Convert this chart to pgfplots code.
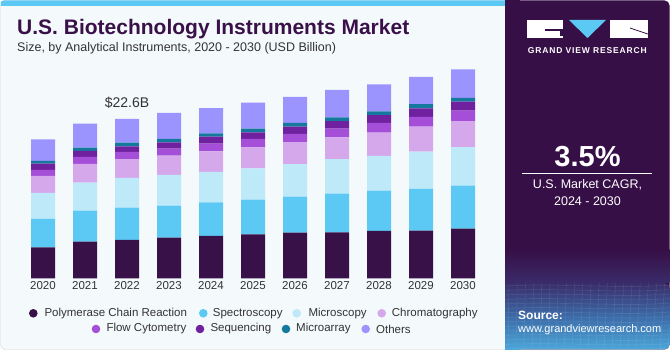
\documentclass[border=0pt]{standalone}
\usepackage{pgfplots}
\pgfplotsset{compat=1.18}
\usepackage{fontspec}
\setmainfont{Liberation Sans}
\definecolor{c1}{HTML}{371148}
\definecolor{c2}{HTML}{5CC9F5}
\definecolor{c3}{HTML}{BEE9F9}
\definecolor{c4}{HTML}{D5A8EC}
\definecolor{c5}{HTML}{A54FD9}
\definecolor{c6}{HTML}{7021A0}
\definecolor{c7}{HTML}{15799E}
\definecolor{c8}{HTML}{9B94FF}
\definecolor{panel}{HTML}{370F47}
\definecolor{titlec}{HTML}{3A1049}
\definecolor{textgray}{HTML}{333333}
\definecolor{bgc}{HTML}{F4F9FC}
\definecolor{stripe}{HTML}{5CC9F5}
\definecolor{bandtop}{HTML}{3A2C6A}
\definecolor{bluebot}{HTML}{4BA6DA}
\definecolor{bandmid}{HTML}{3C6BA8}
\begin{document}
\begin{tikzpicture}[x=1pt,y=1pt]
% background
\fill[white] (0,0) rectangle (670,350);
\draw[fill=bgc, draw=gray!35, rounded corners=5pt] (0.5,0.5) rectangle (669.5,349.5);
\fill[stripe, rounded corners=3pt] (0.5,344) rectangle (510,349.5);
\fill[stripe] (0.5,344) rectangle (510,347);
% right panel
\fill[panel, rounded corners=5pt] (505,0.5) rectangle (669.5,349.5);
\fill[panel] (505,0.5) rectangle (520,349.5);
\shade[top color=panel, bottom color=bandtop] (505,67) rectangle (669.5,100);
\shade[top color=bandtop, bottom color=bluebot, middle color=bandmid, rounded corners=5pt] (505,0.5) rectangle (669.5,67);
\shade[top color=bandtop, bottom color=bluebot, middle color=bandmid] (505,0.5) rectangle (520,67);
\begin{scope}
\clip (505,0.5) rectangle (669.5,67);
\foreach \i in {0,...,14} {\draw[white, opacity=0.12, line width=0.4pt] (505,{4.5*\i+1}) .. controls (560,{4.5*\i+4}) and (620,{4.5*\i-2}) .. (670,{4.5*\i+2});}
\foreach \i in {0,...,22} {\draw[white, opacity=0.12, line width=0.4pt] ({500+8*\i},0) -- ({503+8*\i+0.2*(\i-11)},67);}
\end{scope}
% title
\node[anchor=base west, inner sep=0, font=\bfseries\fontsize{21}{21}\selectfont, text=titlec] at (17,315) {U.S. Biotechnology Instruments Market};
\node[anchor=base west, inner sep=0, font=\fontsize{12.5}{12.5}\selectfont, text=textgray] at (17,298) {Size, by Analytical Instruments, 2020 - 2030 (USD Billion)};
% logo
\fill[white] (526.7,312) rectangle (563,330);
\fill[panel] (545,319) rectangle (563,321);
\fill[panel] (560,314) rectangle (563,321);
\fill[stripe] (569,330) -- (606,330) -- (587.5,312) -- cycle;
\fill[white] (610,312) rectangle (647.7,330);
\draw[panel, line width=0.8pt] (630,322) -- (647.7,316);
\node[inner sep=0, font=\bfseries\fontsize{8.5}{8.5}\selectfont\addfontfeatures{LetterSpace=10}, text=white] at (587.3,299.3) {GRAND VIEW RESEARCH};
% CAGR
\node[inner sep=0, font=\bfseries\fontsize{29}{29}\selectfont, text=white] at (587.5,193.3) {3.5\%};
\draw[white, line width=0.9pt] (522,176.7) -- (652,176.7);
\node[inner sep=0, font=\fontsize{12.5}{12.5}\selectfont, text=white] at (587.5,165) {U.S. Market CAGR,};
\node[inner sep=0, font=\fontsize{12.5}{12.5}\selectfont, text=white] at (587.5,149) {2024 - 2030};
\node[anchor=west, inner sep=0, font=\bfseries\fontsize{12}{12}\selectfont, text=white] at (518,35) {Source:};
\node[anchor=west, inner sep=0, font=\fontsize{11}{11}\selectfont, text=white] at (518,20) {www.grandviewresearch.com};
% chart
\begin{axis}[at={(22pt,71.7pt)}, anchor=south west, scale only axis,
  width=462pt, height=225.6pt, xmin=-0.5, xmax=10.5, ymin=0, ymax=32,
  ybar stacked, bar width=24pt, axis line style={draw=none},
  ytick=\empty, xtick={0,1,2,3,4,5,6,7,8,9,10},
  xticklabels={2020,2021,2022,2023,2024,2025,2026,2027,2028,2029,2030},
  major tick length=0pt,
  xticklabel style={font=\fontsize{11.5}{11.5}\selectfont, text=textgray},
  clip=false]
\addplot[fill=c1, draw=none] coordinates {(0,4.40) (1,5.20) (2,5.44) (3,5.77) (4,6.00) (5,6.24) (6,6.48) (7,6.52) (8,6.71) (9,6.76) (10,7.04)};
\addplot[fill=c2, draw=none] coordinates {(0,4.02) (1,4.40) (2,4.59) (3,4.54) (4,4.78) (5,4.92) (6,5.11) (7,5.48) (8,5.72) (9,5.91) (10,6.10)};
\addplot[fill=c3, draw=none] coordinates {(0,3.69) (1,3.97) (2,4.21) (3,4.35) (4,4.30) (5,4.44) (6,4.59) (7,4.92) (8,4.92) (9,5.30) (10,5.48)};
\addplot[fill=c4, draw=none] coordinates {(0,2.41) (1,2.65) (2,2.65) (3,2.74) (4,2.93) (5,2.98) (6,3.12) (7,3.07) (8,3.31) (9,3.55) (10,3.69)};
\addplot[fill=c5, draw=none] coordinates {(0,0.85) (1,0.99) (2,1.04) (3,0.99) (4,1.09) (5,1.18) (6,1.18) (7,1.23) (8,1.37) (9,1.37) (10,1.47)};
\addplot[fill=c6, draw=none] coordinates {(0,0.90) (1,0.85) (2,0.80) (3,0.90) (4,0.99) (5,0.95) (6,1.04) (7,1.09) (8,1.13) (9,1.23) (10,1.28)};
\addplot[fill=c7, draw=none] coordinates {(0,0.38) (1,0.47) (2,0.52) (3,0.47) (4,0.47) (5,0.52) (6,0.52) (7,0.52) (8,0.52) (9,0.57) (10,0.52)};
\addplot[fill=c8, draw=none] coordinates {(0,3.07) (1,3.40) (2,3.36) (3,3.69) (4,3.59) (5,3.69) (6,3.69) (7,3.88) (8,3.83) (9,3.88) (10,4.07)};
\node[anchor=south, inner sep=0, font=\fontsize{14}{14}\selectfont, text=textgray] at (axis cs:2,22.6) [yshift=10pt] {\$22.6B};
\end{axis}
% legend
\begin{scope}[every node/.style={anchor=west, inner sep=0, font=\fontsize{11.5}{11.5}\selectfont, text=textgray}]
\fill[c1] (33.3,36.7) circle (4.3);  \node at (44.3,36.7) {Polymerase Chain Reaction};
\fill[c2] (203.3,36.7) circle (4.3); \node at (212.7,36.7) {Spectroscopy};
\fill[c3] (296.7,36.7) circle (4.3); \node at (308.3,36.7) {Microscopy};
\fill[c4] (381.7,36.7) circle (4.3); \node at (391.7,36.7) {Chromatography};
\fill[c5] (96,21) circle (4.3);      \node at (106.3,21) {Flow Cytometry};
\fill[c6] (200,21) circle (4.3);     \node at (210.3,21) {Sequencing};
\fill[c7] (286,21) circle (4.3);     \node at (296,21) {Microarray};
\fill[c8] (365.7,21) circle (4.3);   \node at (376,21) {Others};
\end{scope}
\end{tikzpicture}
\end{document}
